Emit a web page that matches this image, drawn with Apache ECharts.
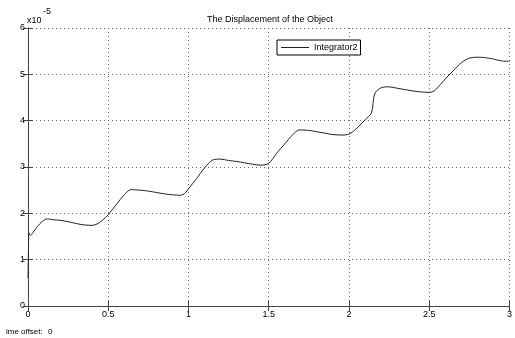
<!DOCTYPE html>
<html><head><meta charset="utf-8">
<script src="https://cdn.jsdelivr.net/npm/echarts@6/dist/echarts.min.js"></script>
<style>html,body{margin:0;padding:0;background:#fff}#c{width:515px;height:338px}</style>
</head><body><div id="c"></div>
<script>
var times = [0,0.003,0.006,0.015,0.03,0.06,0.09,0.12,0.16,0.2,0.25,0.3,0.35,0.4,0.43,0.46,0.5,0.55,0.6,0.64,0.7,0.75,0.8,0.85,0.9,0.95,0.98,1.0,1.05,1.1,1.15,1.2,1.25,1.3,1.35,1.4,1.45,1.5,1.55,1.6,1.65,1.69,1.75,1.8,1.85,1.9,1.95,2.0,2.05,2.1,2.14,2.16,2.2,2.25,2.3,2.35,2.4,2.45,2.5,2.53,2.57,2.6,2.65,2.7,2.75,2.8,2.85,2.9,2.95,3.0];
var displacement = [0.6,1.2,1.58,1.52,1.58,1.72,1.83,1.88,1.86,1.85,1.82,1.78,1.75,1.74,1.77,1.84,1.97,2.19,2.4,2.51,2.5,2.48,2.45,2.42,2.40,2.39,2.44,2.53,2.75,2.98,3.15,3.17,3.14,3.12,3.09,3.06,3.04,3.08,3.30,3.50,3.70,3.80,3.79,3.76,3.73,3.70,3.69,3.71,3.84,4.02,4.17,4.58,4.71,4.73,4.70,4.67,4.64,4.62,4.61,4.64,4.78,4.90,5.08,5.25,5.35,5.37,5.36,5.33,5.29,5.28];
var xTicks = ['0','0.5','1','1.5','2','2.5','3'];
var seriesName = 'Integrator2';

var data = times.map(function(t,i){return [t, displacement[i]];});
var chart = echarts.init(document.getElementById('c'));
var font = 'Arial, "Liberation Sans", sans-serif';
var grid = {left:28, right:3, top:28, bottom:32};
var tickStyle = {show:true, inside:true, length:5, lineStyle:{color:'#444', width:1}};
chart.setOption({
  animation:false,
  backgroundColor:'#fff',
  title:{text:'The Displacement of the Object', left:207, top:15, padding:0,
    textStyle:{fontSize:9, fontWeight:'normal', color:'#000', fontFamily:font}},
  legend:{data:[{name:seriesName, icon:'rect'}], left:277, top:40, orient:'horizontal', itemWidth:28, itemHeight:1, itemGap:3,
    borderColor:'#000', borderWidth:1, padding:[3,3,3,4], backgroundColor:'#fff',
    textStyle:{fontSize:9, color:'#000', fontFamily:font}},
  grid:grid,
  xAxis:[{type:'value', min:0, max:3, interval:0.5,
    axisLine:{show:true, lineStyle:{color:'#444', width:1}},
    axisTick:tickStyle,
    axisLabel:{fontSize:9, color:'#000', fontFamily:font, margin:4, formatter:function(v){var i=Math.round(v/0.5);return xTicks[i]||'';}},
    splitLine:{show:true, lineStyle:{type:[1,3], color:'#666', width:1}}},
    {type:'value', position:'top', min:0, max:3, interval:0.5,
    axisLine:{show:true, lineStyle:{color:'#444', width:1}}, axisTick:tickStyle, axisLabel:{show:false}, splitLine:{show:false}}],
  yAxis:[{type:'value', min:0, max:6, interval:1,
    axisLine:{show:true, lineStyle:{color:'#444', width:1}},
    axisTick:tickStyle,
    axisLabel:{fontSize:9, color:'#000', fontFamily:font, margin:3},
    splitLine:{show:true, lineStyle:{type:[1,3], color:'#666', width:1}}},
    {type:'value', position:'right', min:0, max:6, interval:1,
    axisLine:{show:true, lineStyle:{color:'#444', width:1}}, axisTick:tickStyle, axisLabel:{show:false}, splitLine:{show:false}}],
  graphic:[
    {type:'text', left:27, top:16, style:{text:'x10', fontSize:9, fill:'#000', fontFamily:font}},
    {type:'text', left:43, top:7, style:{text:'-5', fontSize:9, fill:'#000', fontFamily:font}},
    {type:'text', left:6, top:328, style:{text:'ime offset:', fontSize:8, fill:'#000', fontFamily:font}},
    {type:'text', left:48, top:328, style:{text:'0', fontSize:8, fill:'#000', fontFamily:font}}
  ],
  series:[{name:seriesName, type:'line', data:data, showSymbol:false, symbol:'none', smooth:0.3,
    itemStyle:{color:'#222'}, lineStyle:{color:'#222', width:1}}]
});
</script></body></html>
